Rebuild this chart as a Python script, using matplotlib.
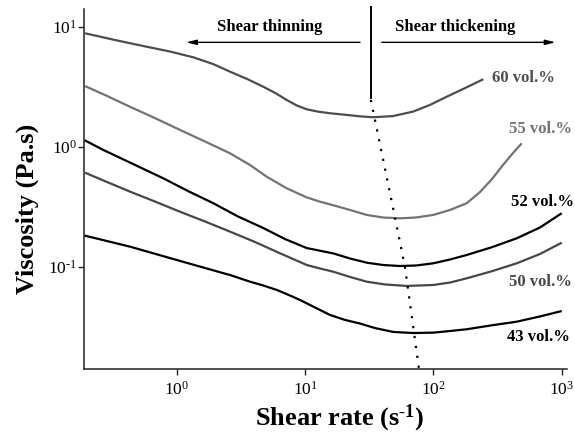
import math
import matplotlib
matplotlib.use("Agg")
import matplotlib.pyplot as plt
from matplotlib.ticker import FuncFormatter

plt.rcParams['font.family'] = ['Liberation Serif', 'DejaVu Serif']
plt.rcParams['mathtext.fontset'] = 'custom'
plt.rcParams['mathtext.rm'] = 'Liberation Serif'
plt.rcParams['mathtext.it'] = 'Liberation Serif:italic'
plt.rcParams['mathtext.bf'] = 'Liberation Serif:bold'

# ---- data ----
x60 = [0.193, 0.330, 0.583, 0.887, 1.347, 1.919, 2.603, 3.531, 4.731, 5.943, 7.201, 8.664,
       10.31, 12.63, 15.66, 21.14, 26.84, 34.07, 48.52, 69.47, 94.25, 127.2, 176.7, 245.3]
y60 = [8.81, 7.75, 6.81, 6.21, 5.56, 4.89, 4.22, 3.67, 3.16, 2.78, 2.45, 2.20,
       2.05, 1.96, 1.90, 1.84, 1.79, 1.76, 1.80, 1.96, 2.23, 2.61, 3.08, 3.65]

x55 = [0.193, 0.286, 0.433, 0.678, 1.061, 1.662, 2.603, 3.727, 5.029, 7.201, 10.31, 13.09,
       16.62, 22.43, 30.27, 40.54, 55.01, 73.32, 100, 134.9, 182.1, 231.2, 286.8, 349.4,
       418.1, 488.7]
y55 = [3.20, 2.65, 2.15, 1.73, 1.38, 1.105, 0.881, 0.704, 0.562, 0.450, 0.378, 0.348,
       0.325, 0.297, 0.270, 0.257, 0.253, 0.257, 0.270, 0.297, 0.338, 0.419, 0.538, 0.704,
       0.886, 1.067]

x52 = [0.190, 0.268, 0.456, 0.786, 1.225, 1.929, 3.005, 4.731, 6.983, 10.31, 16.62, 22.43,
       30.27, 40.54, 55.01, 73.32, 100, 134.9, 182.1, 281.7, 446.7, 678.6, 1002]
y52 = [1.137, 0.939, 0.718, 0.545, 0.427, 0.338, 0.262, 0.210, 0.170, 0.143, 0.129, 0.117,
       0.108, 0.1033, 0.1013, 0.1023, 0.1067, 0.1148, 0.1252, 0.1445, 0.1724, 0.2122, 0.279]

x50 = [0.193, 0.286, 0.433, 0.678, 1.061, 1.662, 2.603, 4.077, 6.385, 9.14, 10.31, 13.09,
       16.62, 22.43, 30.27, 42.03, 62.06, 100, 134.9, 182.1, 281.7, 446.7, 678.6, 1002]
y50 = [0.607, 0.508, 0.422, 0.349, 0.287, 0.238, 0.196, 0.1606, 0.1293, 0.1094, 0.1033, 0.0966,
       0.0908, 0.0821, 0.0750, 0.0711, 0.0691, 0.0704, 0.0738, 0.0800, 0.0912, 0.1067, 0.1276,
       0.1585]

x43 = [0.190, 0.433, 1.0, 1.662, 2.603, 3.727, 4.731, 6.050, 7.641, 9.14, 11.97, 15.66,
       20.50, 26.84, 35.13, 48.52, 69.47, 100, 134.9, 182.1, 281.7, 446.7, 678.6, 1002]
y43 = [0.182, 0.1468, 0.1137, 0.0975, 0.0852, 0.0750, 0.0697, 0.0639, 0.0575, 0.0528, 0.0457,
       0.0396, 0.0360, 0.0336, 0.0308, 0.0286, 0.0280, 0.0282, 0.0291, 0.0301, 0.0324, 0.0348,
       0.0385, 0.0427]

# locus of viscosity minima (dotted)
xmin_locus = [32.6, 44.3, 60.1, 77.3]
ymin_locus = [2.45, 0.498, 0.100, 0.0141]

series_labels = ['60 vol.%', '55 vol.%', '52 vol.%', '50 vol.%', '43 vol.%']
label_x = [285, 391, 403, 389, 377]
label_y = [3.71, 1.404, 0.348, 0.075, 0.0261]

xticks = [1e0, 1e1, 1e2, 1e3]
yticks = [1e-1, 1e0, 1e1]


def pow10(v, pos):
    e = int(round(math.log10(v)))
    s = str(e).replace('-', r'\text{-}')
    return r'$10^{' + s + '}$'


# ---- figure ----
fig = plt.figure(figsize=(5.75, 4.45), dpi=100)
ax = fig.add_axes([0.1461, 0.1708, 0.8395, 0.809])

colors = ['#4d4d4d', '#737373', '#000000', '#474747', '#000000']
xs = [x60, x55, x52, x50, x43]
ys = [y60, y55, y52, y50, y43]
for xv, yv, c in zip(xs, ys, colors):
    ax.plot(xv, yv, color=c, lw=1.6, solid_capstyle='butt', solid_joinstyle='round')

ax.plot(xmin_locus, ymin_locus, color='black', lw=1.6, dashes=(1, 3.5), clip_on=False)
ax.plot([32.4, 32.4], [14.6, 2.55], color='black', lw=1.4, clip_on=False)

ax.set_xscale('log')
ax.set_yscale('log')
ax.set_xlim(0.1894, 1096)
ax.set_ylim(0.01404, 14.05)
ax.set_xticks(xticks)
ax.set_yticks(yticks)
ax.minorticks_off()
ax.xaxis.set_major_formatter(FuncFormatter(pow10))
ax.yaxis.set_major_formatter(FuncFormatter(pow10))

for s in ['top', 'right']:
    ax.spines[s].set_visible(False)
for s in ['left', 'bottom']:
    ax.spines[s].set_linewidth(1.1)
    ax.spines[s].set_color('#222222')
ax.tick_params(axis='both', direction='out', length=4.3, width=1.0, colors='#222222',
               labelsize=12.5, labelcolor='black')
ax.tick_params(axis='x', pad=4)
ax.tick_params(axis='y', pad=1)

# arrows and region labels
ax.annotate('', xy=(1.126, 7.41), xytext=(28.2, 7.41),
            arrowprops=dict(arrowstyle='-|>,head_length=0.6,head_width=0.15', color='black', lw=1.0))
ax.annotate('', xy=(942, 7.41), xytext=(37.7, 7.41),
            arrowprops=dict(arrowstyle='-|>,head_length=0.6,head_width=0.15', color='black', lw=1.0),
            annotation_clip=False)
ax.text(5.34, 9.94, 'Shear thinning', ha='center', va='center', fontsize=12, fontweight='bold')
ax.text(147.6, 9.94, 'Shear thickening', ha='center', va='center', fontsize=12, fontweight='bold')

for lab, lx, ly, c in zip(series_labels, label_x, label_y, colors):
    ax.text(lx, ly, lab, ha='left', va='center', fontsize=12, fontweight='bold', color=c,
            clip_on=False)

ax.text(0.530, -0.1556, r'Shear rate (s$^{\mathbf{\text{-}1}}$)', transform=ax.transAxes,
        ha='center', va='baseline', fontsize=19, fontweight='bold')
ax.text(-0.117, 0.444, 'Viscosity (Pa.s)', transform=ax.transAxes, rotation=90,
        ha='center', va='center', fontsize=19, fontweight='bold')

fig.savefig('out.png', dpi=100)
